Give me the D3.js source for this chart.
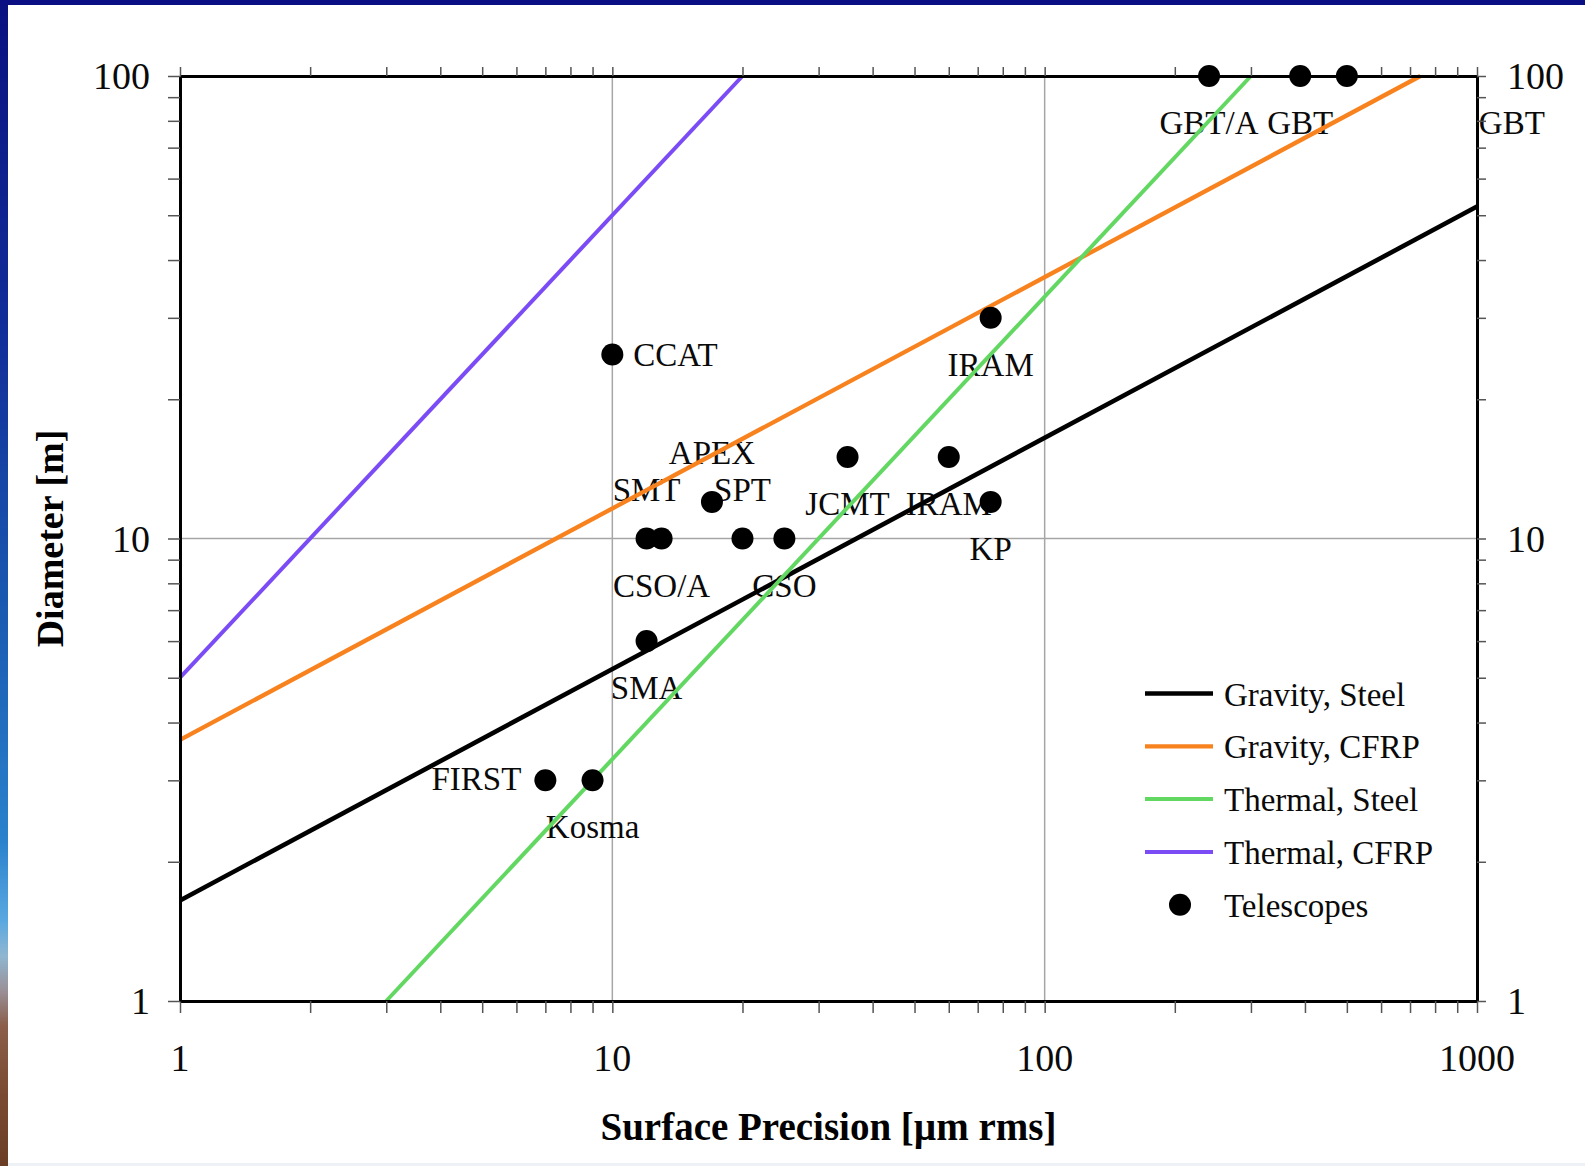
<!DOCTYPE html>
<html>
<head>
<meta charset="utf-8">
<script src="https://cdn.jsdelivr.net/npm/d3@7"></script>
<style>
  html, body { margin: 0; padding: 0; background: #ffffff; }
  svg { display: block; }
</style>
</head>
<body>
<script>
// ---------------- DATA ----------------
const xTickLabels = ["1", "10", "100", "1000"];
const yTickLabels = ["1", "10", "100"];
const xTitle = "Surface Precision [µm rms]";
const yTitle = "Diameter [m]";

const seriesNames = ["Gravity, Steel", "Gravity, CFRP", "Thermal, Steel", "Thermal, CFRP"];
// endpoints [surface precision (µm), diameter (m)]
const gravitySteel = [[1, 1.65], [1000, 52.2]];
const gravityCFRP  = [[1, 3.67], [740, 100]];
const thermalSteel = [[3, 1], [300, 100]];
const thermalCFRP  = [[1, 5], [20, 100]];

const telescopeNames = ["GBT/A", "GBT", "GBT", "CCAT", "IRAM", "APEX", "JCMT", "IRAM", "KP",
                        "SMT", "CSO/A", "SPT", "CSO", "SMA", "FIRST", "Kosma"];
const telescopeSigma = [240, 390, 500, 10, 75, 17, 35, 60, 75, 12, 13, 20, 25, 12, 7, 9];
const telescopeDiam  = [100, 100, 100, 25, 30, 12, 15, 15, 12, 10, 10, 10, 10, 6, 3, 3];
const legendTelescopes = "Telescopes";

// ---------------- LAYOUT / STYLE ----------------
const W = 1585, H = 1166;
const plot = { left: 180, right: 1477, top: 76, bottom: 1001 };
const seriesColors = ["#000000", "#f7821e", "#62d862", "#7b4cf6"];
const seriesWidths = [4.6, 4.3, 4, 4];
const labelPlacement = ["below", "below", "farRight", "right", "below", "above", "below", "below", "below",
                        "above", "below", "above", "below", "below", "left", "below"];
const placementSpec = {
  below:    { anchor: "middle", dx: 0,   dy: 58 },
  above:    { anchor: "middle", dx: 0,   dy: -38 },
  right:    { anchor: "start",  dx: 21,  dy: 12 },
  left:     { anchor: "end",    dx: -24, dy: 10 },
  farRight: { anchor: "middle", dx: 165, dy: 58 }
};
const serif = "'Liberation Serif', 'Times New Roman', serif";

const svg = d3.select("body").append("svg").attr("width", W).attr("height", H);

// background frame
const defs = svg.append("defs");
const grad = defs.append("linearGradient").attr("id", "leftStrip")
  .attr("x1", 0).attr("y1", 0).attr("x2", 0).attr("y2", 1);
[[0, "#0a1080"], [0.3, "#12319a"], [0.55, "#1b5fb4"], [0.72, "#2a82cc"], [0.79, "#5aa8e0"],
 [0.82, "#8fb6d0"], [0.85, "#9a8f96"], [0.88, "#8a5e4a"], [0.94, "#7a4a30"], [1, "#6a3d25"]]
  .forEach(([o, c]) => grad.append("stop").attr("offset", o).attr("stop-color", c));
svg.append("rect").attr("x", 0).attr("y", 0).attr("width", W).attr("height", H).attr("fill", "#ffffff");
svg.append("rect").attr("x", 0).attr("y", 0).attr("width", 8).attr("height", H).attr("fill", "url(#leftStrip)");
svg.append("rect").attr("x", 0).attr("y", 0).attr("width", W).attr("height", 5).attr("fill", "#0a0f84");
svg.append("rect").attr("x", 8).attr("y", H - 3).attr("width", W - 8).attr("height", 3).attr("fill", "#eef1f5");

// scales
const x = d3.scaleLog().domain([1, 1000]).range([plot.left, plot.right]);
const y = d3.scaleLog().domain([1, 100]).range([plot.bottom, plot.top]);

const xTicksAll = [];
for (let p = 1; p < 1000; p *= 10) for (let k = 1; k < 10; k++) xTicksAll.push(k * p);
xTicksAll.push(1000);
const yTicksAll = [];
for (let p = 1; p < 100; p *= 10) for (let k = 1; k < 10; k++) yTicksAll.push(k * p);
yTicksAll.push(100);

// grid lines at the inner decades
const grid = svg.append("g");
[10, 100].forEach(v => grid.append("line")
  .attr("x1", x(v)).attr("x2", x(v)).attr("y1", plot.top).attr("y2", plot.bottom)
  .attr("stroke", "#a6a6a6").attr("stroke-width", 1.5));
[10].forEach(v => grid.append("line")
  .attr("x1", plot.left).attr("x2", plot.right).attr("y1", y(v)).attr("y2", y(v))
  .attr("stroke", "#a6a6a6").attr("stroke-width", 1.5));

// telescope labels
const tel = telescopeNames.map((n, i) => ({ name: n, s: telescopeSigma[i], d: telescopeDiam[i], p: placementSpec[labelPlacement[i]] }));
svg.append("g").selectAll("text").data(tel).join("text")
  .attr("x", d => x(d.s) + d.p.dx)
  .attr("y", d => y(d.d) + d.p.dy)
  .attr("text-anchor", d => d.p.anchor)
  .attr("font-family", serif).attr("font-size", 33).attr("fill", "#0a0a0a")
  .text(d => d.name);

// series lines
const lineGen = d3.line().x(d => x(d[0])).y(d => y(d[1]));
const seriesData = [gravitySteel, gravityCFRP, thermalSteel, thermalCFRP];
svg.append("g").selectAll("path").data(seriesData).join("path")
  .attr("d", lineGen).attr("fill", "none")
  .attr("stroke", (d, i) => seriesColors[i]).attr("stroke-width", (d, i) => seriesWidths[i]);

// axes (ticks only, labels drawn below)
function styleAxis(g) {
  g.select(".domain").attr("stroke", "#000").attr("stroke-width", 3);
  g.selectAll(".tick line").attr("stroke", "#555").attr("stroke-width", 1.5);
  g.selectAll(".tick text").remove();
}
svg.append("g").attr("transform", `translate(0,${plot.bottom})`)
  .call(d3.axisBottom(x).tickValues(xTicksAll).tickSize(12).tickSizeOuter(0).tickFormat(""))
  .call(styleAxis);
svg.append("g").attr("transform", `translate(0,${plot.top})`)
  .call(d3.axisTop(x).tickValues(xTicksAll).tickSize(9).tickSizeOuter(0).tickFormat(""))
  .call(styleAxis);
svg.append("g").attr("transform", `translate(${plot.left},0)`)
  .call(d3.axisLeft(y).tickValues(yTicksAll).tickSize(12).tickSizeOuter(0).tickFormat(""))
  .call(styleAxis);
svg.append("g").attr("transform", `translate(${plot.right},0)`)
  .call(d3.axisRight(y).tickValues(yTicksAll).tickSize(9).tickSizeOuter(0).tickFormat(""))
  .call(styleAxis);

// tick labels
const tickFont = 38;
svg.append("g").selectAll("text").data(xTickLabels).join("text")
  .attr("x", d => x(+d)).attr("y", 1071).attr("text-anchor", "middle")
  .attr("font-family", serif).attr("font-size", tickFont).attr("fill", "#0a0a0a").text(d => d);
svg.append("g").selectAll("text").data(yTickLabels).join("text")
  .attr("x", 150).attr("y", d => y(+d) + 13).attr("text-anchor", "end")
  .attr("font-family", serif).attr("font-size", tickFont).attr("fill", "#0a0a0a").text(d => d);
svg.append("g").selectAll("text").data(yTickLabels).join("text")
  .attr("x", 1507).attr("y", d => y(+d) + 13).attr("text-anchor", "start")
  .attr("font-family", serif).attr("font-size", tickFont).attr("fill", "#0a0a0a").text(d => d);

// axis titles
svg.append("text").attr("x", (plot.left + plot.right) / 2).attr("y", 1140)
  .attr("text-anchor", "middle").attr("font-family", serif).attr("font-weight", "bold")
  .attr("font-size", 39).attr("fill", "#000").text(xTitle);
svg.append("text").attr("transform", `translate(63,${(plot.top + plot.bottom) / 2}) rotate(-90)`)
  .attr("text-anchor", "middle").attr("font-family", serif).attr("font-weight", "bold")
  .attr("font-size", 38).attr("fill", "#000").text(yTitle);

// telescope dots
svg.append("g").selectAll("circle").data(tel).join("circle")
  .attr("cx", d => x(d.s)).attr("cy", d => y(d.d)).attr("r", 11).attr("fill", "#000");

// legend
const legend = svg.append("g");
const legY0 = 693.5, legStep = 52.8;
seriesNames.forEach((n, i) => {
  const ly = legY0 + i * legStep;
  legend.append("line").attr("x1", 1145).attr("x2", 1213).attr("y1", ly).attr("y2", ly)
    .attr("stroke", seriesColors[i]).attr("stroke-width", seriesWidths[i]);
  legend.append("text").attr("x", 1224).attr("y", ly + 12)
    .attr("font-family", serif).attr("font-size", 33).attr("fill", "#0a0a0a").text(n);
});
const ty = legY0 + 4 * legStep;
legend.append("circle").attr("cx", 1180).attr("cy", ty).attr("r", 11).attr("fill", "#000");
legend.append("text").attr("x", 1224).attr("y", ty + 12)
  .attr("font-family", serif).attr("font-size", 33).attr("fill", "#0a0a0a").text(legendTelescopes);
</script>
</body>
</html>
